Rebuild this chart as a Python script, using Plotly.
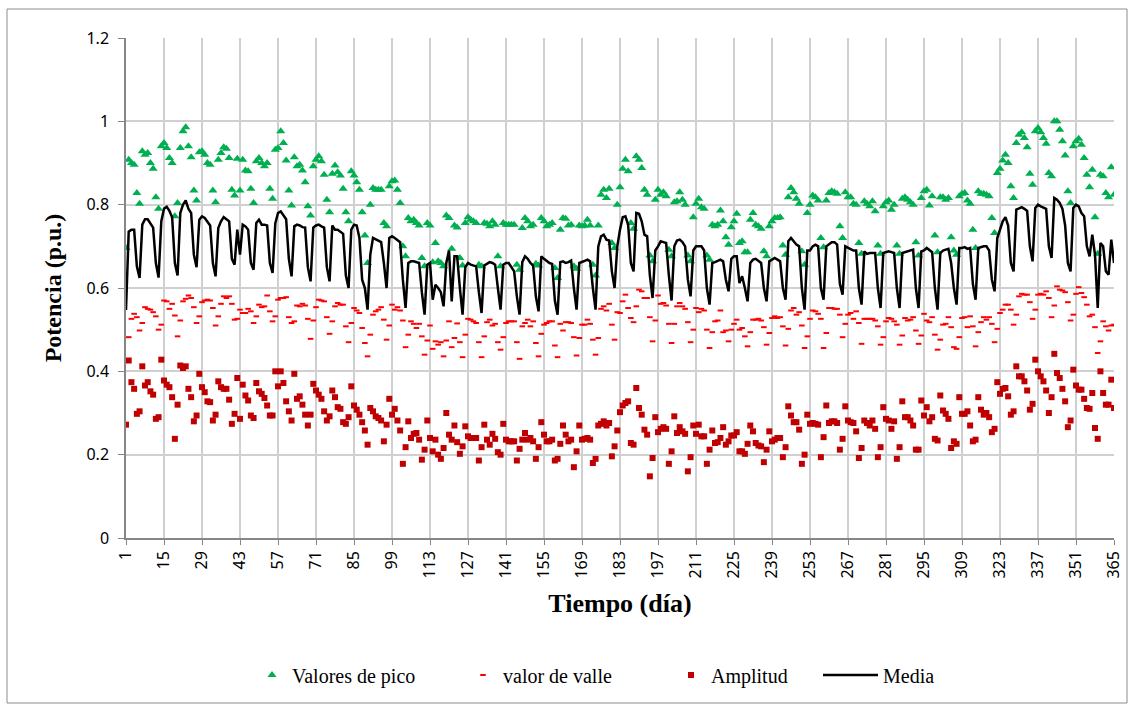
import plotly.graph_objects as go

# Day index (1..365)
days = list(range(1, 366))

# Valores de pico (p.u.) - one row per week (row 0 = days 1-6, last row = days 364-365)
pico = [
    0.696, 0.908, 0.900, 0.896, 0.828, 0.802,
    0.928, 0.920, 0.924, 0.900, 0.886, 0.818, 0.790,
    0.940, 0.948, 0.936, 0.912, 0.900, 0.772, 0.804,
    0.936, 0.976, 0.986, 0.940, 0.914, 0.834, 0.810,
    0.926, 0.928, 0.920, 0.900, 0.896, 0.834, 0.806,
    0.908, 0.924, 0.938, 0.934, 0.912, 0.836, 0.822,
    0.910, 0.834, 0.908, 0.882, 0.880, 0.838, 0.804,
    0.904, 0.912, 0.900, 0.892, 0.900, 0.838, 0.814,
    0.932, 0.936, 0.976, 0.948, 0.906, 0.834, 0.798,
    0.914, 0.892, 0.896, 0.882, 0.854, 0.796, 0.774,
    0.892, 0.908, 0.916, 0.904, 0.872, 0.812, 0.782,
    0.874, 0.894, 0.878, 0.870, 0.838, 0.782, 0.760,
    0.880, 0.870, 0.854, 0.836, 0.782, 0.726, 0.660,
    0.800, 0.840, 0.836, 0.836, 0.836, 0.756, 0.748,
    0.844, 0.856, 0.858, 0.836, 0.804, 0.700, 0.676,
    0.768, 0.760, 0.764, 0.756, 0.750, 0.672, 0.652,
    0.756, 0.750, 0.662, 0.708, 0.664, 0.660, 0.652,
    0.774, 0.768, 0.694, 0.750, 0.745, 0.672, 0.654,
    0.756, 0.770, 0.764, 0.760, 0.756, 0.656, 0.652,
    0.756, 0.754, 0.748, 0.760, 0.752, 0.676, 0.652,
    0.756, 0.752, 0.752, 0.752, 0.752, 0.656, 0.644,
    0.744, 0.768, 0.760, 0.748, 0.752, 0.658, 0.654,
    0.768, 0.760, 0.748, 0.752, 0.756, 0.648, 0.624,
    0.740, 0.768, 0.766, 0.750, 0.752, 0.652, 0.646,
    0.750, 0.748, 0.750, 0.764, 0.750, 0.656, 0.630,
    0.750, 0.824, 0.836, 0.816, 0.838, 0.708, 0.696,
    0.800, 0.842, 0.886, 0.908, 0.880, 0.756, 0.742,
    0.916, 0.908, 0.888, 0.836, 0.824, 0.678, 0.664,
    0.812, 0.836, 0.824, 0.830, 0.820, 0.692, 0.676,
    0.806, 0.808, 0.830, 0.812, 0.800, 0.678, 0.664,
    0.770, 0.802, 0.814, 0.794, 0.790, 0.678, 0.668,
    0.752, 0.748, 0.752, 0.786, 0.760, 0.722, 0.704,
    0.746, 0.760, 0.778, 0.708, 0.712, 0.686, 0.686,
    0.764, 0.780, 0.752, 0.748, 0.742, 0.688, 0.676,
    0.748, 0.760, 0.768, 0.768, 0.770, 0.702, 0.680,
    0.818, 0.840, 0.830, 0.814, 0.802, 0.688, 0.656,
    0.780, 0.800, 0.822, 0.818, 0.810, 0.720, 0.698,
    0.810, 0.828, 0.832, 0.830, 0.826, 0.748, 0.720,
    0.830, 0.818, 0.818, 0.802, 0.800, 0.708, 0.682,
    0.808, 0.802, 0.796, 0.808, 0.784, 0.702, 0.682,
    0.796, 0.806, 0.810, 0.788, 0.800, 0.702, 0.682,
    0.814, 0.818, 0.812, 0.806, 0.800, 0.710, 0.678,
    0.816, 0.832, 0.836, 0.798, 0.820, 0.726, 0.686,
    0.818, 0.818, 0.812, 0.816, 0.722, 0.690, 0.680,
    0.820, 0.826, 0.828, 0.810, 0.802, 0.740, 0.696,
    0.832, 0.826, 0.826, 0.824, 0.820, 0.768, 0.732,
    0.876, 0.886, 0.906, 0.920, 0.900, 0.844, 0.816,
    0.948, 0.968, 0.974, 0.960, 0.938, 0.874, 0.848,
    0.976, 0.984, 0.974, 0.960, 0.946, 0.876, 0.868,
    1.000, 1.000, 0.980, 0.952, 0.918, 0.832, 0.804,
    0.940, 0.952, 0.958, 0.944, 0.912, 0.872, 0.842,
    0.884, 0.770, 0.682, 0.872, 0.868, 0.828, 0.818,
    0.890, 0.824,
]

# valor de valle (p.u.)
valle = [
    0.424, 0.482, 0.526, 0.538, 0.530, 0.498,
    0.516, 0.554, 0.550, 0.548, 0.542, 0.532, 0.500,
    0.512, 0.570, 0.568, 0.550, 0.562, 0.534, 0.484,
    0.522, 0.568, 0.574, 0.582, 0.576, 0.554, 0.516,
    0.532, 0.566, 0.570, 0.572, 0.570, 0.552, 0.510,
    0.532, 0.562, 0.580, 0.576, 0.580, 0.562, 0.524,
    0.526, 0.548, 0.540, 0.540, 0.550, 0.544, 0.516,
    0.532, 0.560, 0.554, 0.556, 0.582, 0.544, 0.520,
    0.532, 0.572, 0.576, 0.576, 0.578, 0.530, 0.516,
    0.520, 0.558, 0.556, 0.562, 0.558, 0.526, 0.478,
    0.522, 0.554, 0.572, 0.570, 0.568, 0.530, 0.490,
    0.520, 0.556, 0.564, 0.560, 0.560, 0.508, 0.470,
    0.516, 0.552, 0.546, 0.540, 0.504, 0.468, 0.436,
    0.488, 0.536, 0.544, 0.548, 0.554, 0.524, 0.476,
    0.510, 0.560, 0.548, 0.554, 0.546, 0.522, 0.458,
    0.488, 0.520, 0.514, 0.504, 0.514, 0.484, 0.440,
    0.474, 0.510, 0.454, 0.472, 0.464, 0.470, 0.436,
    0.474, 0.520, 0.458, 0.480, 0.515, 0.470, 0.434,
    0.488, 0.526, 0.524, 0.520, 0.516, 0.470, 0.434,
    0.484, 0.518, 0.524, 0.510, 0.514, 0.470, 0.452,
    0.482, 0.516, 0.520, 0.520, 0.520, 0.470, 0.430,
    0.508, 0.516, 0.524, 0.508, 0.520, 0.468, 0.436,
    0.490, 0.512, 0.516, 0.520, 0.520, 0.462, 0.434,
    0.514, 0.498, 0.518, 0.518, 0.516, 0.482, 0.438,
    0.480, 0.512, 0.512, 0.524, 0.514, 0.476, 0.440,
    0.480, 0.550, 0.556, 0.546, 0.562, 0.512, 0.476,
    0.542, 0.540, 0.568, 0.584, 0.552, 0.528, 0.518,
    0.556, 0.596, 0.592, 0.576, 0.576, 0.530, 0.472,
    0.522, 0.582, 0.562, 0.564, 0.558, 0.514, 0.468,
    0.514, 0.556, 0.564, 0.556, 0.550, 0.518, 0.470,
    0.500, 0.552, 0.542, 0.550, 0.546, 0.500, 0.456,
    0.494, 0.520, 0.522, 0.546, 0.494, 0.498, 0.472,
    0.500, 0.514, 0.524, 0.500, 0.504, 0.484, 0.460,
    0.494, 0.524, 0.524, 0.526, 0.522, 0.506, 0.464,
    0.492, 0.528, 0.532, 0.528, 0.530, 0.508, 0.462,
    0.502, 0.546, 0.552, 0.536, 0.542, 0.510, 0.456,
    0.484, 0.526, 0.546, 0.544, 0.538, 0.526, 0.456,
    0.492, 0.552, 0.552, 0.550, 0.550, 0.536, 0.482,
    0.514, 0.536, 0.540, 0.526, 0.544, 0.516, 0.466,
    0.526, 0.526, 0.526, 0.526, 0.522, 0.508, 0.464,
    0.482, 0.520, 0.528, 0.526, 0.520, 0.512, 0.464,
    0.486, 0.528, 0.522, 0.524, 0.530, 0.498, 0.466,
    0.486, 0.538, 0.522, 0.518, 0.530, 0.488, 0.452,
    0.476, 0.512, 0.514, 0.530, 0.506, 0.458, 0.454,
    0.482, 0.528, 0.530, 0.506, 0.532, 0.508, 0.460,
    0.494, 0.518, 0.530, 0.524, 0.530, 0.514, 0.470,
    0.502, 0.540, 0.548, 0.560, 0.560, 0.548, 0.512,
    0.536, 0.580, 0.586, 0.584, 0.584, 0.566, 0.526,
    0.548, 0.584, 0.586, 0.584, 0.592, 0.576, 0.530,
    0.558, 0.604, 0.596, 0.594, 0.590, 0.566, 0.522,
    0.536, 0.586, 0.602, 0.588, 0.578, 0.560, 0.532,
    0.536, 0.506, 0.444, 0.472, 0.520, 0.508, 0.498,
    0.510, 0.512,
]

# Amplitud (p.u.)
amplitud = [
    0.272, 0.426, 0.374, 0.358, 0.298, 0.304,
    0.412, 0.366, 0.374, 0.352, 0.344, 0.286, 0.290,
    0.428, 0.378, 0.368, 0.362, 0.338, 0.238, 0.320,
    0.414, 0.408, 0.412, 0.358, 0.338, 0.280, 0.294,
    0.394, 0.362, 0.350, 0.328, 0.326, 0.282, 0.296,
    0.376, 0.362, 0.358, 0.358, 0.332, 0.274, 0.298,
    0.384, 0.286, 0.368, 0.342, 0.330, 0.294, 0.288,
    0.372, 0.352, 0.346, 0.336, 0.318, 0.294, 0.294,
    0.400, 0.364, 0.400, 0.372, 0.328, 0.304, 0.282,
    0.394, 0.334, 0.340, 0.320, 0.296, 0.270, 0.296,
    0.370, 0.354, 0.344, 0.334, 0.304, 0.282, 0.292,
    0.354, 0.338, 0.314, 0.310, 0.278, 0.274, 0.290,
    0.364, 0.318, 0.308, 0.296, 0.278, 0.258, 0.224,
    0.312, 0.304, 0.292, 0.288, 0.282, 0.232, 0.272,
    0.334, 0.296, 0.310, 0.282, 0.258, 0.178, 0.218,
    0.280, 0.240, 0.250, 0.252, 0.236, 0.188, 0.212,
    0.282, 0.240, 0.208, 0.236, 0.200, 0.190, 0.216,
    0.300, 0.248, 0.236, 0.270, 0.230, 0.202, 0.220,
    0.268, 0.244, 0.240, 0.240, 0.240, 0.186, 0.218,
    0.272, 0.236, 0.224, 0.250, 0.238, 0.206, 0.200,
    0.274, 0.236, 0.232, 0.232, 0.232, 0.186, 0.214,
    0.236, 0.252, 0.236, 0.240, 0.232, 0.190, 0.218,
    0.278, 0.248, 0.232, 0.232, 0.236, 0.186, 0.190,
    0.226, 0.270, 0.248, 0.232, 0.236, 0.170, 0.208,
    0.270, 0.236, 0.238, 0.240, 0.236, 0.180, 0.190,
    0.270, 0.274, 0.280, 0.270, 0.276, 0.196, 0.220,
    0.258, 0.302, 0.318, 0.324, 0.328, 0.228, 0.224,
    0.360, 0.312, 0.296, 0.260, 0.248, 0.148, 0.192,
    0.290, 0.254, 0.262, 0.266, 0.262, 0.178, 0.208,
    0.292, 0.252, 0.266, 0.256, 0.250, 0.160, 0.194,
    0.270, 0.250, 0.272, 0.244, 0.244, 0.178, 0.212,
    0.258, 0.228, 0.230, 0.240, 0.266, 0.224, 0.232,
    0.246, 0.246, 0.254, 0.208, 0.208, 0.202, 0.226,
    0.270, 0.256, 0.228, 0.222, 0.220, 0.182, 0.212,
    0.256, 0.232, 0.236, 0.240, 0.240, 0.194, 0.218,
    0.316, 0.294, 0.278, 0.278, 0.260, 0.178, 0.200,
    0.296, 0.274, 0.276, 0.274, 0.272, 0.194, 0.242,
    0.318, 0.276, 0.280, 0.280, 0.276, 0.212, 0.238,
    0.316, 0.282, 0.278, 0.276, 0.256, 0.192, 0.216,
    0.282, 0.276, 0.270, 0.282, 0.262, 0.194, 0.218,
    0.314, 0.286, 0.282, 0.262, 0.280, 0.190, 0.218,
    0.328, 0.290, 0.290, 0.282, 0.270, 0.212, 0.212,
    0.330, 0.294, 0.314, 0.280, 0.290, 0.238, 0.234,
    0.342, 0.306, 0.298, 0.286, 0.216, 0.232, 0.226,
    0.338, 0.298, 0.298, 0.304, 0.270, 0.232, 0.236,
    0.338, 0.308, 0.296, 0.300, 0.290, 0.254, 0.262,
    0.374, 0.346, 0.358, 0.360, 0.340, 0.296, 0.304,
    0.412, 0.388, 0.388, 0.376, 0.354, 0.308, 0.322,
    0.428, 0.400, 0.388, 0.376, 0.354, 0.300, 0.338,
    0.442, 0.396, 0.384, 0.358, 0.328, 0.266, 0.282,
    0.404, 0.366, 0.356, 0.356, 0.334, 0.312, 0.310,
    0.348, 0.264, 0.238, 0.400, 0.348, 0.320, 0.320,
    0.380, 0.312,
]

# Media (p.u.)
media = [
    0.547, 0.735, 0.740, 0.740, 0.652, 0.624,
    0.752, 0.765, 0.765, 0.755, 0.745, 0.660, 0.625,
    0.760, 0.790, 0.795, 0.785, 0.770, 0.660, 0.630,
    0.780, 0.800, 0.810, 0.790, 0.780, 0.680, 0.650,
    0.764, 0.772, 0.768, 0.760, 0.750, 0.660, 0.628,
    0.744, 0.760, 0.770, 0.765, 0.760, 0.670, 0.656,
    0.740, 0.680, 0.752, 0.748, 0.740, 0.660, 0.644,
    0.756, 0.764, 0.752, 0.752, 0.750, 0.660, 0.636,
    0.755, 0.780, 0.784, 0.775, 0.765, 0.670, 0.628,
    0.748, 0.752, 0.750, 0.746, 0.745, 0.650, 0.616,
    0.745, 0.750, 0.752, 0.748, 0.745, 0.650, 0.616,
    0.750, 0.740, 0.740, 0.735, 0.730, 0.630, 0.600,
    0.740, 0.752, 0.750, 0.720, 0.620, 0.600, 0.548,
    0.680, 0.720, 0.716, 0.712, 0.710, 0.660, 0.600,
    0.720, 0.724, 0.720, 0.716, 0.710, 0.620, 0.552,
    0.660, 0.664, 0.664, 0.662, 0.660, 0.590, 0.536,
    0.656, 0.660, 0.572, 0.608, 0.600, 0.590, 0.556,
    0.660, 0.690, 0.568, 0.676, 0.676, 0.600, 0.536,
    0.650, 0.660, 0.656, 0.654, 0.652, 0.590, 0.540,
    0.654, 0.658, 0.662, 0.660, 0.656, 0.600, 0.548,
    0.656, 0.660, 0.660, 0.650, 0.640, 0.580, 0.536,
    0.662, 0.676, 0.670, 0.660, 0.654, 0.580, 0.544,
    0.676, 0.670, 0.665, 0.660, 0.658, 0.570, 0.536,
    0.662, 0.664, 0.660, 0.662, 0.666, 0.600, 0.548,
    0.660, 0.662, 0.665, 0.668, 0.664, 0.600, 0.548,
    0.700, 0.724, 0.728, 0.716, 0.714, 0.640, 0.600,
    0.700, 0.740, 0.770, 0.772, 0.752, 0.660, 0.640,
    0.780, 0.778, 0.760, 0.728, 0.724, 0.630, 0.576,
    0.690, 0.700, 0.712, 0.710, 0.708, 0.630, 0.570,
    0.700, 0.714, 0.716, 0.710, 0.700, 0.620, 0.580,
    0.690, 0.700, 0.700, 0.700, 0.690, 0.600, 0.560,
    0.660, 0.662, 0.666, 0.668, 0.664, 0.620, 0.592,
    0.670, 0.676, 0.676, 0.612, 0.628, 0.600, 0.568,
    0.660, 0.668, 0.670, 0.664, 0.660, 0.600, 0.568,
    0.664, 0.668, 0.672, 0.668, 0.664, 0.600, 0.572,
    0.712, 0.720, 0.712, 0.704, 0.700, 0.600, 0.548,
    0.690, 0.690, 0.700, 0.704, 0.700, 0.600, 0.572,
    0.700, 0.704, 0.710, 0.710, 0.704, 0.610, 0.584,
    0.700, 0.696, 0.692, 0.690, 0.690, 0.600, 0.560,
    0.688, 0.682, 0.684, 0.684, 0.684, 0.600, 0.552,
    0.684, 0.686, 0.688, 0.686, 0.684, 0.600, 0.552,
    0.684, 0.686, 0.688, 0.690, 0.692, 0.600, 0.552,
    0.688, 0.690, 0.696, 0.690, 0.686, 0.600, 0.548,
    0.684, 0.690, 0.692, 0.694, 0.660, 0.600, 0.560,
    0.696, 0.696, 0.698, 0.694, 0.696, 0.610, 0.572,
    0.696, 0.698, 0.700, 0.700, 0.690, 0.620, 0.592,
    0.720, 0.740, 0.760, 0.770, 0.750, 0.660, 0.640,
    0.788, 0.792, 0.794, 0.790, 0.785, 0.700, 0.664,
    0.792, 0.800, 0.796, 0.792, 0.790, 0.700, 0.672,
    0.816, 0.812, 0.804, 0.790, 0.750, 0.660, 0.640,
    0.792, 0.800, 0.796, 0.780, 0.772, 0.700, 0.676,
    0.728, 0.680, 0.552, 0.708, 0.700, 0.640, 0.632,
    0.716, 0.660,
]

x_ticks = list(range(1, 366, 14))
x_tick_labels = [str(v) for v in x_ticks]

L, R, T, B = 126, 20, 38, 166
W, H = 1134, 704
pw, ph = W - L - R, H - T - B


def px_x(p):
    return (p - L) / pw


def px_y(p):
    return (538 - p) / ph


fig = go.Figure()
fig.add_trace(go.Scatter(
    x=days, y=pico, mode="markers", name="Valores de pico", legend="legend",
    marker=dict(symbol="triangle-up", size=8, color="#00B050", line=dict(width=0)),
))
fig.add_trace(go.Scatter(
    x=days, y=valle, mode="markers", name="valor de valle", legend="legend2",
    marker=dict(symbol="line-ew", size=4, color="#FF0000", line=dict(width=2, color="#FF0000")),
))
fig.add_trace(go.Scatter(
    x=days, y=amplitud, mode="markers", name="Amplitud", legend="legend3",
    marker=dict(symbol="square", size=6, color="#C00000", line=dict(width=0)),
))
fig.add_trace(go.Scatter(
    x=days, y=media, mode="lines", name="Media", legend="legend4",
    line=dict(color="#000000", width=2.5),
))

legend_font = dict(family="Liberation Serif", size=20, color="#000000")


def make_legend(xpix, itemwidth=30):
    return dict(
        orientation="h", xref="paper", yref="paper",
        x=px_x(xpix), xanchor="left", y=px_y(675), yanchor="middle",
        font=legend_font, bgcolor="rgba(0,0,0,0)", itemwidth=itemwidth,
    )


fig.update_layout(
    width=W, height=H,
    margin=dict(l=L, r=R, t=T, b=B, autoexpand=False),
    paper_bgcolor="white", plot_bgcolor="white",
    showlegend=True,
    legend=make_legend(252),
    legend2=make_legend(463),
    legend3=make_legend(671),
    legend4=make_legend(818, itemwidth=55),
    shapes=[dict(
        type="rect", xref="paper", yref="paper",
        x0=px_x(7), x1=px_x(1127), y0=px_y(703), y1=px_y(9),
        line=dict(color="#8c8c8c", width=1), fillcolor="rgba(0,0,0,0)", layer="below",
    )],
)

fig.update_xaxes(
    range=[1, 365], tickmode="array", tickvals=x_ticks, ticktext=x_tick_labels,
    tickangle=-90, ticks="outside", ticklen=5, tickcolor="#868686",
    showline=True, linecolor="#868686", linewidth=1.5,
    showgrid=True, gridcolor="#d0d0d0", gridwidth=1.5, zeroline=False,
    tickfont=dict(family="Noto Sans", size=16, color="#000000"),
    title=dict(text="<b>Tiempo (día)</b>", standoff=16,
               font=dict(family="Liberation Serif", size=26, color="#000000")),
    automargin=False,
)
fig.update_yaxes(
    range=[0, 1.2], dtick=0.2, tick0=0, ticks="outside", ticklen=6, tickcolor="#868686",
    showline=True, linecolor="#868686", linewidth=1.5,
    showgrid=True, gridcolor="#d0d0d0", gridwidth=1.5, zeroline=False,
    tickfont=dict(family="Noto Sans", size=16, color="#000000"), ticklabelstandoff=6,
    title=dict(text="<b>Potencia (p.u.)</b>", standoff=18,
               font=dict(family="Liberation Serif", size=24, color="#000000")),
    automargin=False,
)

fig.write_html("out.html")
